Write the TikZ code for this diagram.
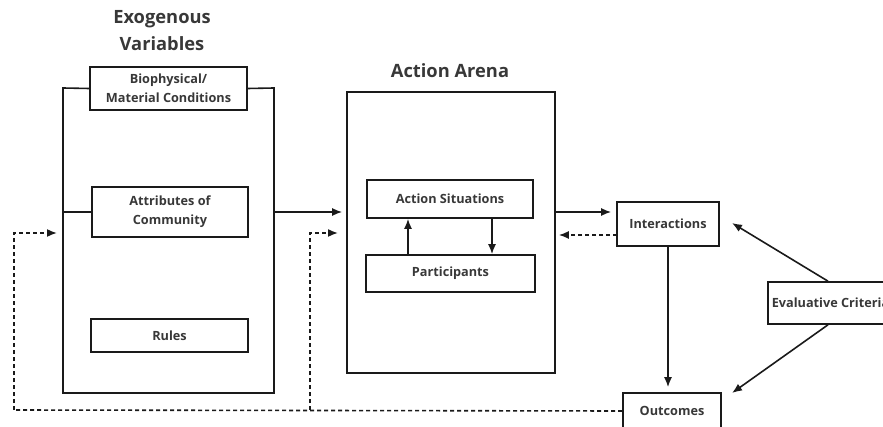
\documentclass[tikz,border=0pt]{standalone}
\usepackage{fontspec}
\setmainfont{Open Sans}
\usetikzlibrary{arrows.meta}
\definecolor{txt}{HTML}{383838}
\definecolor{ln}{HTML}{1A1A1A}
\tikzset{
  box/.style={draw=ln, line width=1.6pt, fill=white, text=txt, font=\fontsize{12.7}{19}\selectfont\bfseries, align=center, inner sep=0pt},
  title/.style={text=txt, font=\fontsize{18.3}{27}\selectfont\bfseries, align=center},
  conn/.style={draw=ln, line width=1.6pt},
  arr/.style={conn, -{Latex[length=10pt,width=8pt]}},
  dsh/.style={draw=ln, line width=1.6pt, dash pattern=on 4pt off 3pt}
}
\begin{document}
\begin{tikzpicture}[x=1pt,y=-1pt]
\useasboundingbox (0,0) rectangle (883,427);
\clip (0,0) rectangle (883,427);
% titles
\node[title] (extitle) at (162,31) {Exogenous\\Variables};
\node[title] (artitle) at (450,71) {Action Arena};
% exogenous
\node[box, minimum width=157pt, minimum height=43pt] (bio) at (168.5,88.5) {Biophysical/\\Material Conditions};
\node[box, minimum width=156pt, minimum height=50pt] (attr) at (170,212) {Attributes of\\Community};
\node[box, minimum width=157pt, minimum height=33pt] (rules) at (169.5,335.5) {Rules};
\coordinate (fTL) at (63,88);
\coordinate (fBL) at (63,393);
\coordinate (fBR) at (274,393);
\coordinate (fTR) at (274,88);
\draw[conn] (bio.west) -- (fTL) -- (fBL) -- (fBR) -- (fTR) -- (bio.east);
\draw[conn] (attr.west) -- (attr.west -| fTL);
% arena
\node[box, minimum width=208pt, minimum height=281pt] (arena) at (451,232.5) {};
\node[box, minimum width=166pt, minimum height=38pt] (as) at (450,199) {Action Situations};
\node[box, minimum width=169pt, minimum height=37pt] (part) at (450.5,273.5) {Participants};
\coordinate (up) at (408,0);
\coordinate (dn) at (492,0);
\draw[arr] (part.north -| up) -- (as.south -| up);
\draw[arr] (as.south -| dn) -- (part.north -| dn);
\draw[arr, shorten >=4pt] (attr.east -| fTR) -- (attr.east -| arena.west);
% right part
\node[box, minimum width=102pt, minimum height=44pt] (inter) at (668,224) {Interactions};
\node[box, anchor=west, inner xsep=4pt, minimum height=42pt] (ec) at (767,303) {Evaluative Criteria};
\node[box, minimum width=98pt, minimum height=36pt] (out) at (672,411) {Outcomes};
\coordinate (aR) at (555,212);
\draw[arr, shorten >=5pt] (aR) -- (aR -| inter.west);
\coordinate (iL) at (617,235);
\draw[arr, dsh, shorten >=3pt] (iL) -- (iL -| arena.east);
\draw[arr, shorten >=5pt] (inter.south) -- (inter.south |- out.north);
\coordinate (t1) at (732,223);
\coordinate (t2) at (732,393);
\draw[arr] ([xshift=61pt]ec.north west) -- (t1);
\draw[arr] ([xshift=61pt]ec.south west) -- (t2);
% feedback
\coordinate (fbL) at (14,410);
\coordinate (fbM) at (310,410);
\coordinate (exin) at (57,233);
\coordinate (arin) at (338,233);
\draw[dsh] (out.west) -- (fbL);
\draw[arr, dsh] (fbL) |- (exin);
\draw[arr, dsh] (fbM) |- (arin);
\end{tikzpicture}
\end{document}
